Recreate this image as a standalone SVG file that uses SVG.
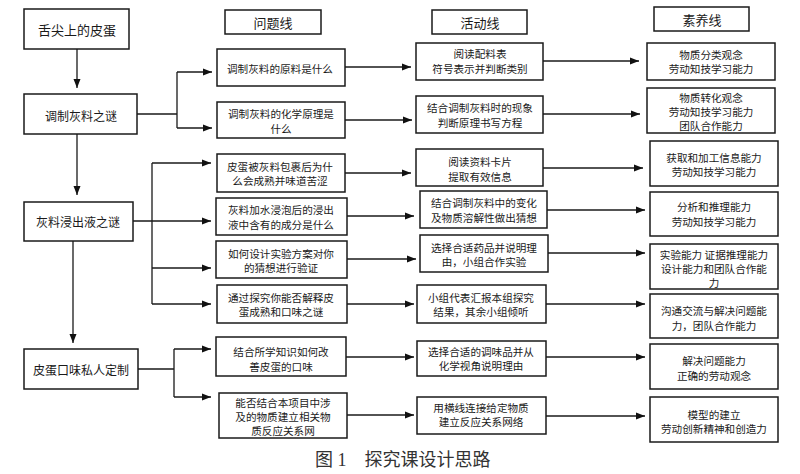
<svg xmlns="http://www.w3.org/2000/svg" width="800" height="474" viewBox="0 0 800 474">
<defs>
<marker id="ah" markerUnits="userSpaceOnUse" markerWidth="10" markerHeight="8" refX="9" refY="4" orient="auto">
<path d="M0,0.5 L9,4 L0,7.5 Z" fill="#111"/>
</marker>
<style>
rect{fill:#fff;stroke:#1a1a1a;stroke-width:1.5}
text{font-family:"Noto Sans CJK SC","Noto Sans",sans-serif;fill:#1a1a1a;text-anchor:middle;dominant-baseline:central;font-size:10.6px}
.l{font-size:12px}
.t{font-size:13px}
.cap{font-family:"Liberation Serif","Noto Sans CJK SC",serif;font-size:18px;text-anchor:start;dominant-baseline:auto;fill:#333}
#conn path,#conn line{fill:none;stroke:#1a1a1a;stroke-width:1.3}
.a{marker-end:url(#ah)}
</style>
</defs>
<rect x="0" y="0" width="800" height="474" style="fill:#fff;stroke:none"/>
<g id="conn">
<line class="a" x1="77" y1="49" x2="77" y2="88"/>
<line class="a" x1="77" y1="134" x2="77" y2="195"/>
<line class="a" x1="73" y1="241" x2="73" y2="343"/>
<path d="M137,114 H177 M177,72 V128"/>
<line class="a" x1="177" y1="72" x2="212" y2="72"/>
<line class="a" x1="177" y1="128" x2="212" y2="128"/>
<path d="M133,221 H152 M152,163 V304"/>
<line class="a" x1="152" y1="163" x2="211" y2="163"/>
<line class="a" x1="152" y1="221" x2="211" y2="221"/>
<line class="a" x1="152" y1="268" x2="211" y2="268"/>
<line class="a" x1="152" y1="304" x2="211" y2="304"/>
<path d="M138,369 H174 M174,349 V397"/>
<line class="a" x1="174" y1="349" x2="211" y2="349"/>
<line class="a" x1="174" y1="397" x2="211" y2="397"/>
<line class="a" x1="345" y1="67" x2="411" y2="67"/>
<line class="a" x1="345" y1="120" x2="412" y2="120"/>
<line class="a" x1="345" y1="173" x2="411" y2="173"/>
<line class="a" x1="347" y1="216" x2="414" y2="216"/>
<line class="a" x1="347" y1="259" x2="416" y2="259"/>
<line class="a" x1="347" y1="304" x2="414" y2="304"/>
<line class="a" x1="346" y1="357" x2="414" y2="357"/>
<line class="a" x1="347" y1="415" x2="414" y2="415"/>
<line class="a" x1="543" y1="61" x2="639" y2="61"/>
<line class="a" x1="543" y1="114" x2="640" y2="114"/>
<line class="a" x1="543" y1="168" x2="643" y2="168"/>
<line class="a" x1="547" y1="210" x2="645" y2="210"/>
<line class="a" x1="548" y1="253" x2="645" y2="253"/>
<line class="a" x1="546" y1="304" x2="645" y2="304"/>
<line class="a" x1="546" y1="357" x2="645" y2="357"/>
<line class="a" x1="546" y1="416" x2="645" y2="416"/>
</g>
<g id="L0"><rect x="24" y="9" width="105" height="40"/><text class="t" x="77" y="29">舌尖上的皮蛋</text></g>
<g id="L1"><rect x="24" y="94" width="113" height="40"/><text class="l" x="81" y="115">调制灰料之谜</text></g>
<g id="L2"><rect x="24" y="202" width="109" height="39"/><text class="l" x="78" y="221">灰料浸出液之谜</text></g>
<g id="L3"><rect x="24" y="349" width="114" height="40"/><text class="l" x="81" y="369">皮蛋口味私人定制</text></g>
<g id="H1"><rect x="225" y="10" width="96" height="24"/><text class="t" x="273" y="22">问题线</text></g>
<g id="H2"><rect x="432" y="10" width="95" height="24"/><text class="t" x="480" y="22">活动线</text></g>
<g id="H3"><rect x="654" y="7" width="95" height="24"/><text class="t" x="702" y="19">素养线</text></g>
<g id="q1"><rect x="217" y="49" width="128" height="37"/><text x="280" y="68">调制灰料的原料是什么</text></g>
<g id="q2"><rect x="217" y="102" width="128" height="36"/><text x="281" y="113.8">调制灰料的化学原理是</text><text x="281" y="128.2">什么</text></g>
<g id="q3"><rect x="217" y="154" width="128" height="38"/><text x="280" y="166.3">皮蛋被灰料包裹后为什</text><text x="280" y="180.7">么会成熟并味道苦涩</text></g>
<g id="q4"><rect x="216" y="198" width="131" height="37"/><text x="281" y="209.8">灰料加水浸泡后的浸出</text><text x="281" y="224.2">液中含有的成分是什么</text></g>
<g id="q5"><rect x="216" y="241" width="131" height="37"/><text x="281" y="253.3">如何设计实验方案对你</text><text x="281" y="267.7">的猜想进行验证</text></g>
<g id="q6"><rect x="217" y="285" width="130" height="38"/><text x="281" y="297.3">通过探究你能否解释皮</text><text x="281" y="311.7">蛋成熟和口味之谜</text></g>
<g id="q7"><rect x="216" y="337" width="130" height="39"/><text x="281" y="351.8">结合所学知识如何改</text><text x="281" y="366.2">善皮蛋的口味</text></g>
<g id="q8"><rect x="219" y="393" width="128" height="45"/><text x="283" y="402.1">能否结合本项目中涉</text><text x="283" y="416.5">及的物质建立相关物</text><text x="283" y="430.9">质反应关系网</text></g>
<g id="a1"><rect x="416" y="43" width="127" height="37"/><text x="480" y="53.8">阅读配料表</text><text x="480" y="68.2">符号表示并判断类别</text></g>
<g id="a2"><rect x="416" y="96" width="127" height="37"/><text x="480" y="107.8">结合调制灰料时的现象</text><text x="480" y="122.2">判断原理书写方程</text></g>
<g id="a3"><rect x="416" y="149" width="127" height="37"/><text x="480" y="161.8">阅读资料卡片</text><text x="480" y="176.2">提取有效信息</text></g>
<g id="a4"><rect x="420" y="191" width="127" height="37"/><text x="484" y="202.8">结合调制灰料中的变化</text><text x="484" y="217.2">及物质溶解性做出猜想</text></g>
<g id="a5"><rect x="420" y="235" width="128" height="37"/><text x="484" y="247.3">选择合适药品并说明理</text><text x="484" y="261.7">由，小组合作实验</text></g>
<g id="a6"><rect x="417" y="285" width="129" height="38"/><text x="481" y="297.3">小组代表汇报本组探究</text><text x="481" y="311.7">结果，其余小组倾听</text></g>
<g id="a7"><rect x="417" y="341" width="129" height="35"/><text x="481" y="351.3">选择合适的调味品并从</text><text x="481" y="365.7">化学视角说明理由</text></g>
<g id="a8"><rect x="417" y="397" width="129" height="37"/><text x="481" y="407.3">用横线连接给定物质</text><text x="481" y="421.7">建立反应关系网络</text></g>
<g id="s1"><rect x="647" y="43" width="128" height="37"/><text x="711" y="54.3">物质分类观念</text><text x="711" y="68.7">劳动知技学习能力</text></g>
<g id="s2"><rect x="647" y="88" width="128" height="45"/><text x="711" y="97.1">物质转化观念</text><text x="711" y="111.5">劳动知技学习能力</text><text x="711" y="125.9">团队合作能力</text></g>
<g id="s3"><rect x="650" y="141" width="128" height="45"/><text x="714" y="157.3">获取和加工信息能力</text><text x="714" y="171.7">劳动知技学习能力</text></g>
<g id="s4"><rect x="650" y="192" width="128" height="44"/><text x="714" y="206.8">分析和推理能力</text><text x="714" y="221.2">劳动知技学习能力</text></g>
<g id="s5"><rect x="650" y="244" width="128" height="45"/><text x="714" y="254.1">实验能力 证据推理能力</text><text x="714" y="268.5">设计能力和团队合作能</text><text x="714" y="282.9">力</text></g>
<g id="s6"><rect x="650" y="294" width="128" height="44"/><text x="714" y="310.8">沟通交流与解决问题能</text><text x="714" y="325.2">力，团队合作能力</text></g>
<g id="s7"><rect x="650" y="344" width="128" height="45"/><text x="714" y="360.8">解决问题能力</text><text x="714" y="375.2">正确的劳动观念</text></g>
<g id="s8"><rect x="650" y="397" width="128" height="45"/><text x="714" y="414.3">模型的建立</text><text x="714" y="428.7">劳动创新精神和创造力</text></g>
<text class="cap" x="315" y="466">图 1　探究课设计思路</text>
</svg>
